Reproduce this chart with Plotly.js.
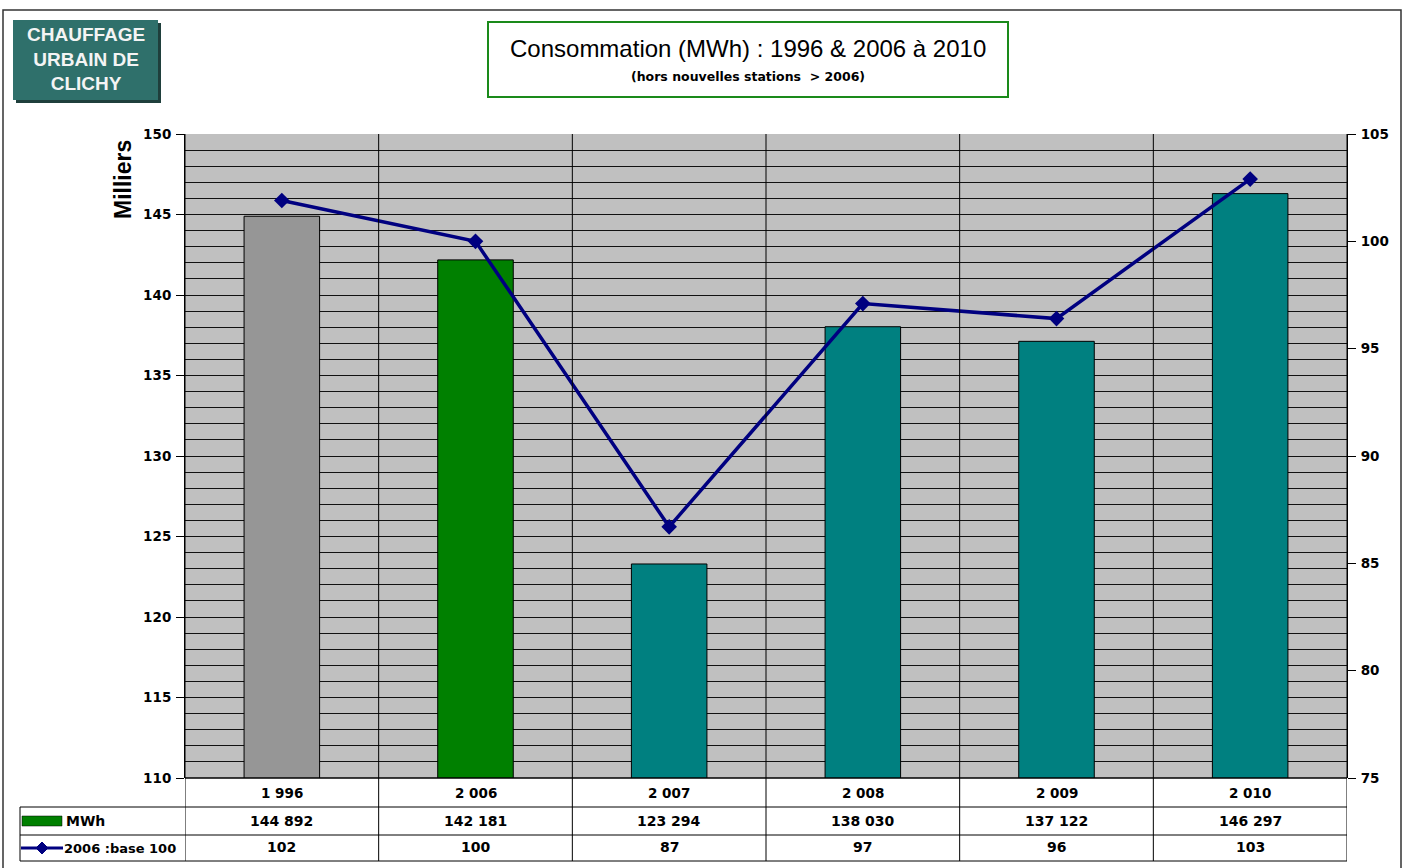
<!DOCTYPE html>
<html>
<head>
<meta charset="utf-8">
<script src="https://cdn.plot.ly/plotly-3.0.1.min.js"></script>
<style>
  html, body { margin: 0; padding: 0; background: #ffffff; }
  #chart { width: 1407px; height: 868px; }
</style>
</head>
<body>
<div id="chart"></div>
<script>
// ---- Data ----
const yearLabels = ["1 996", "2 006", "2 007", "2 008", "2 009", "2 010"];
const mwhValues = [144892, 142181, 123294, 138030, 137122, 146297];
const indexValues = [101.9, 100.0, 86.7, 97.1, 96.4, 102.9];
const indexLabels = [102, 100, 87, 97, 96, 103];
const barColors = ["#969696", "#008000", "#008080", "#008080", "#008080", "#008080"];
const leftTicks = [110, 115, 120, 125, 130, 135, 140, 145, 150];
const rightTicks = [75, 80, 85, 90, 95, 100, 105];
const seriesNames = ["MWh", "2006 :base 100"];

// ---- Geometry helpers (pixel -> paper) ----
const W = 1407, H = 868;
const PL = 185, PR = 1347, PT = 134, PB = 778;
const px = x => (x - PL) / (PR - PL);
const py = y => (PB - y) / (PB - PT);

const FONT = "Liberation Sans, Arial, sans-serif";
const BFONT = "DejaVu Sans, Verdana, sans-serif";
const idx = yearLabels.map((_, i) => i);
const fmt = n => String(n).replace(/\B(?=(\d{3})+(?!\d))/g, " ");

const barTrace = {
  type: "bar",
  x: idx,
  y: mwhValues.map(v => v / 1000),
  width: 0.39,
  marker: { color: barColors, line: { color: "#000000", width: 1 } },
  name: seriesNames[0],
  hoverinfo: "skip"
};
const lineTrace = {
  type: "scatter",
  mode: "lines+markers",
  x: idx,
  y: indexValues,
  yaxis: "y2",
  line: { color: "#000080", width: 3.5 },
  marker: { symbol: "diamond", size: 12, color: "#000080" },
  name: seriesNames[1],
  hoverinfo: "skip"
};

const shapes = [];
const annotations = [];
const L = (x0, y0, x1, y1, w, c) => shapes.push({
  type: "line", xref: "paper", yref: "paper",
  x0: px(x0), y0: py(y0), x1: px(x1), y1: py(y1),
  line: { color: c || "#000000", width: w || 1 }, layer: "above"
});

// outer frame
shapes.push({ type: "rect", xref: "paper", yref: "paper",
  x0: px(3), x1: px(1401), y0: py(10), y1: py(900),
  line: { color: "#333333", width: 1.5 }, layer: "below" });

// logo (shadow + box)
shapes.push({ type: "rect", xref: "paper", yref: "paper",
  x0: px(16), x1: px(161), y0: py(23), y1: py(103),
  fillcolor: "#1f3f3c", line: { width: 0 }, layer: "below" });
shapes.push({ type: "rect", xref: "paper", yref: "paper",
  x0: px(13), x1: px(158), y0: py(20), y1: py(100),
  fillcolor: "#2f706b", line: { width: 0 }, layer: "below" });
annotations.push({ xref: "paper", yref: "paper", x: px(86), y: py(59),
  xanchor: "center", yanchor: "middle", showarrow: false,
  text: "CHAUFFAGE<br>URBAIN DE<br>CLICHY",
  font: { family: FONT, size: 19, color: "#f4f4f4", weight: "bold" } });

// title box
shapes.push({ type: "rect", xref: "paper", yref: "paper",
  x0: px(488), x1: px(1008), y0: py(22), y1: py(97),
  fillcolor: "#ffffff", line: { color: "#1a8a1a", width: 2 }, layer: "below" });
annotations.push({ xref: "paper", yref: "paper", x: px(748), y: py(49),
  xanchor: "center", yanchor: "middle", showarrow: false,
  text: "Consommation (MWh) : 1996 &amp; 2006 à 2010",
  font: { family: FONT, size: 24, color: "#000000" } });
annotations.push({ xref: "paper", yref: "paper", x: px(748), y: py(76),
  xanchor: "center", yanchor: "middle", showarrow: false,
  text: "(hors nouvelles stations  > 2006)",
  font: { family: BFONT, size: 12.5, color: "#000000", weight: "bold" } });

// y-axis title
annotations.push({ xref: "paper", yref: "paper", x: px(123), y: py(180),
  xanchor: "center", yanchor: "middle", showarrow: false, textangle: -90,
  text: "Milliers",
  font: { family: FONT, size: 23, color: "#000000", weight: "bold" } });

// vertical category separators (plot + table)
for (let i = 0; i <= idx.length; i++) {
  shapes.push({ type: "line", xref: "x", yref: "paper",
    x0: i - 0.5, x1: i - 0.5, y0: py(861), y1: 1,
    line: { color: "#000000", width: 1 }, layer: "above" });
}
// table lines
L(PL, 778, PR, 778, 1.5);
L(20, 807, PR, 807, 1);
L(20, 835, PR, 835, 1);
L(20, 861, PR, 861, 1);
L(20, 807, 20, 861, 1);

// legend keys in table
shapes.push({ type: "rect", xref: "paper", yref: "paper",
  x0: px(22), x1: px(62), y0: py(816), y1: py(826),
  fillcolor: "#008000", line: { color: "#000000", width: 0.5 }, layer: "above" });
L(21, 848, 63, 848, 3, "#000080");
shapes.push({ type: "path", xref: "paper", yref: "paper",
  path: `M ${px(42)},${py(842)} L ${px(48)},${py(848)} L ${px(42)},${py(854)} L ${px(36)},${py(848)} Z`,
  fillcolor: "#000080", line: { color: "#000080", width: 1 }, layer: "above" });
annotations.push({ xref: "paper", yref: "paper", x: px(64), y: py(821),
  xanchor: "left", yanchor: "middle", showarrow: false, text: seriesNames[0],
  font: { family: BFONT, size: 14, color: "#000000", weight: "bold" } });
annotations.push({ xref: "paper", yref: "paper", x: px(62), y: py(848),
  xanchor: "left", yanchor: "middle", showarrow: false, text: seriesNames[1],
  font: { family: BFONT, size: 13, color: "#000000", weight: "bold" } });

// table cell texts
idx.forEach(i => {
  annotations.push({ xref: "x", yref: "paper", x: i, y: py(793),
    xanchor: "center", yanchor: "middle", showarrow: false, text: yearLabels[i],
    font: { family: BFONT, size: 13.5, color: "#000000", weight: "bold" } });
  annotations.push({ xref: "x", yref: "paper", x: i, y: py(821),
    xanchor: "center", yanchor: "middle", showarrow: false, text: fmt(mwhValues[i]),
    font: { family: BFONT, size: 14, color: "#000000", weight: "bold" } });
  annotations.push({ xref: "x", yref: "paper", x: i, y: py(847),
    xanchor: "center", yanchor: "middle", showarrow: false, text: String(indexLabels[i]),
    font: { family: BFONT, size: 14, color: "#000000", weight: "bold" } });
});

const layout = {
  width: W, height: H,
  margin: { l: PL, r: W - PR, t: PT, b: H - PB, pad: 0 },
  paper_bgcolor: "#ffffff",
  plot_bgcolor: "#c0c0c0",
  showlegend: false,
  bargap: 0,
  xaxis: {
    range: [-0.5, idx.length - 0.5],
    showticklabels: false, showgrid: false, zeroline: false, ticks: "",
    fixedrange: true
  },
  yaxis: {
    range: [leftTicks[0], leftTicks[leftTicks.length - 1]],
    tickvals: leftTicks,
    ticks: "outside", ticklen: 8, tickcolor: "#000000", tickwidth: 1,
    showline: true, linecolor: "#000000", linewidth: 1,
    showgrid: true, gridcolor: "#111111", gridwidth: 1,
    minor: { dtick: 1, showgrid: true, gridcolor: "#111111", gridwidth: 1 },
    zeroline: false,
    tickfont: { family: BFONT, size: 13.5, color: "#000000", weight: "bold" },
    ticklabelstandoff: 2
  },
  yaxis2: {
    range: [rightTicks[0], rightTicks[rightTicks.length - 1]],
    tickvals: rightTicks,
    overlaying: "y", side: "right",
    ticks: "outside", ticklen: 8, tickcolor: "#000000", tickwidth: 1,
    showline: true, linecolor: "#000000", linewidth: 1,
    showgrid: false, zeroline: false,
    tickfont: { family: BFONT, size: 13.5, color: "#000000", weight: "bold" },
    ticklabelstandoff: 2
  },
  shapes: shapes,
  annotations: annotations
};

Plotly.newPlot("chart", [barTrace, lineTrace], layout, { displayModeBar: false, staticPlot: true });
</script>
</body>
</html>
